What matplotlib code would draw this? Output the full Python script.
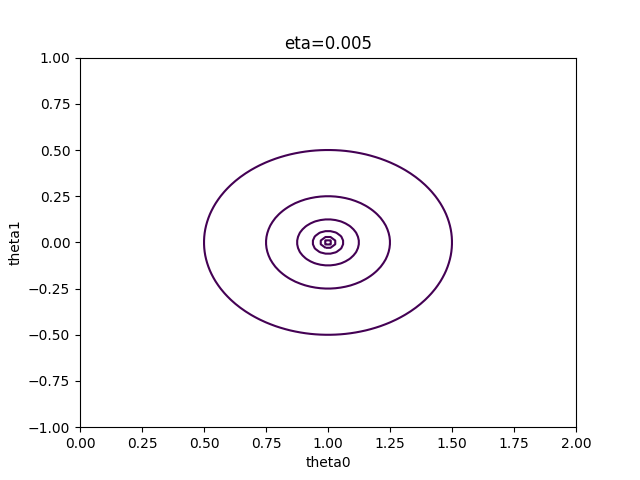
import numpy as np
import matplotlib.pyplot as plt

# contour levels of the loss J = (theta0-1)^2 + theta1^2
levels = [0.000244, 0.000977, 0.003906, 0.015625, 0.0625, 0.25]

t0 = np.linspace(0, 2, 100)
t1 = np.linspace(-1, 1, 100)
T0, T1 = np.meshgrid(t0, t1)
J = (T0 - 1) ** 2 + T1 ** 2

fig, ax = plt.subplots(figsize=(6.4, 4.8), dpi=100)
ax.contour(T0, T1, J, levels=levels, colors="#440154")
ax.set_xlim(0, 2)
ax.set_ylim(-1, 1)
ax.set_xlabel("theta0")
ax.set_ylabel("theta1")
ax.set_title("eta=0.005")
fig.savefig("out.png")
